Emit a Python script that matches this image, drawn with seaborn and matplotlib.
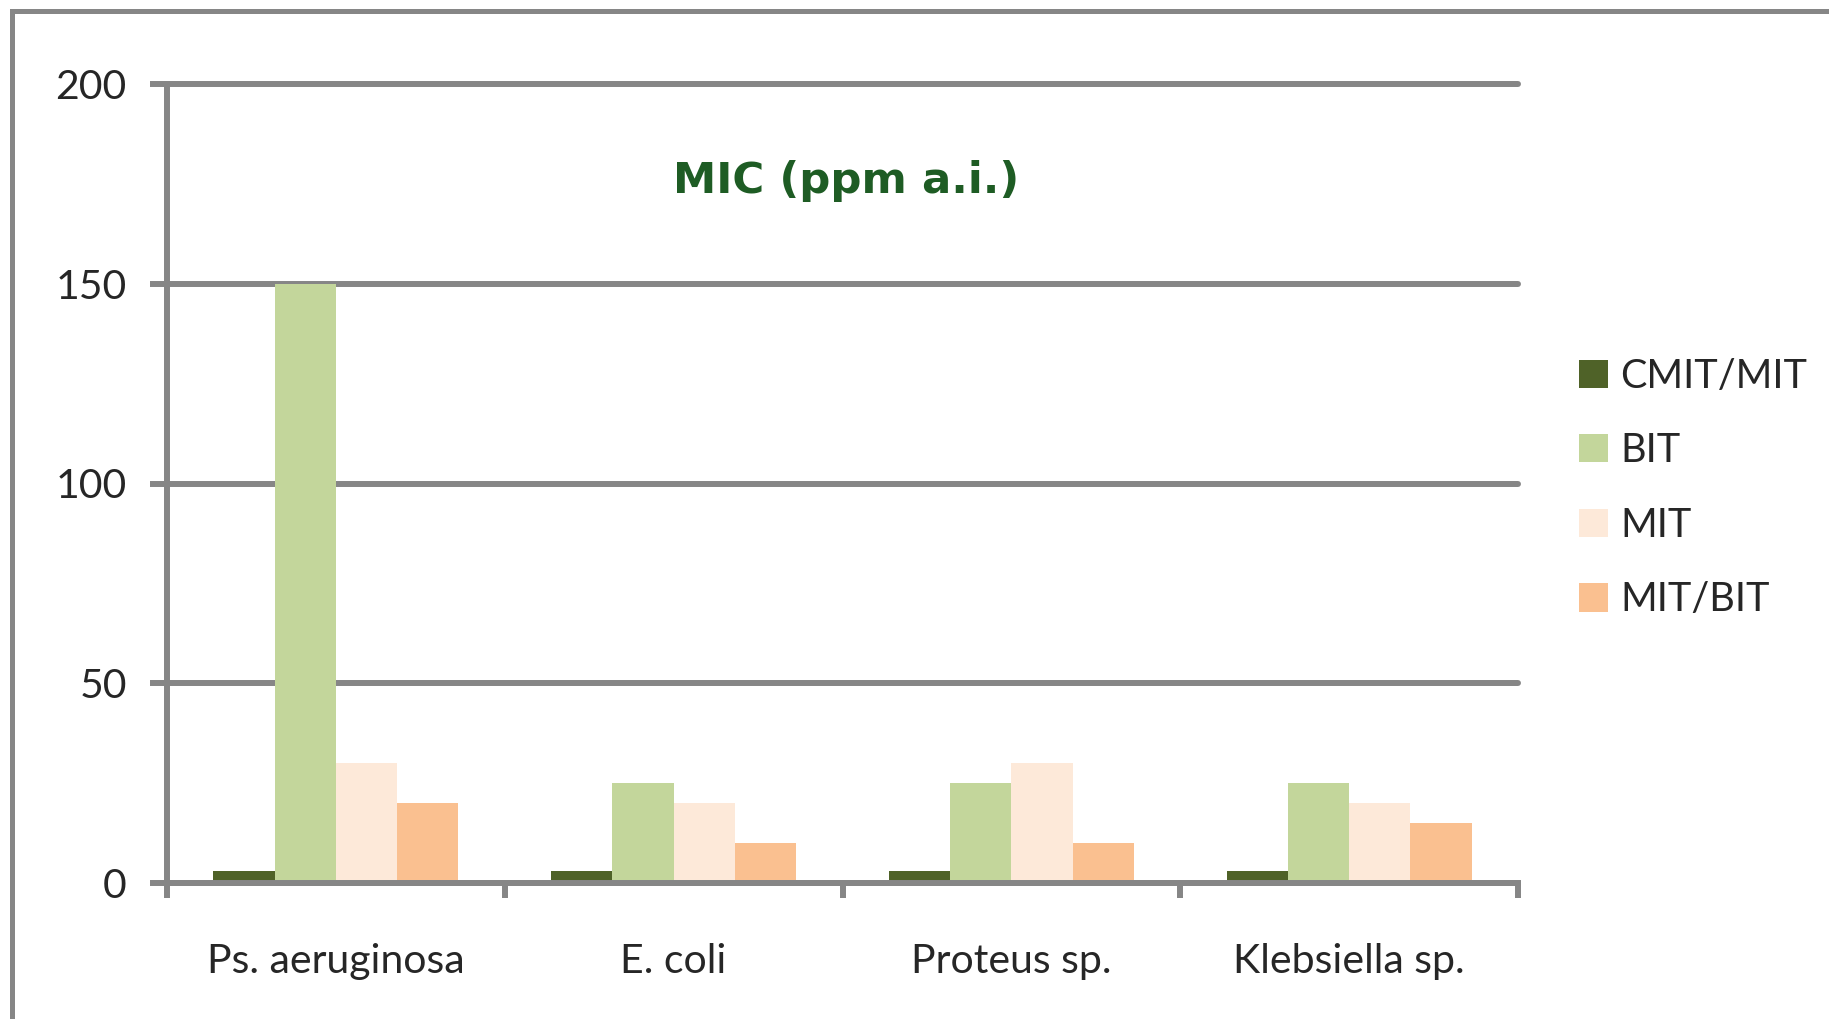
import pandas as pd
import seaborn as sns
from matplotlib import pyplot as plt
from matplotlib.patches import Rectangle

organisms = ["Ps. aeruginosa", "E. coli", "Proteus sp.", "Klebsiella sp."]
biocides = ["CMIT/MIT", "BIT", "MIT", "MIT/BIT"]
cmit_mit = [3, 3, 3, 3]
bit = [150, 25, 25, 25]
mit = [30, 20, 30, 20]
mit_bit = [20, 10, 10, 15]
colors = ["#4f6228", "#c3d69b", "#fde9d9", "#fac090"]

df = pd.DataFrame({"org": organisms, "CMIT/MIT": cmit_mit, "BIT": bit,
                   "MIT": mit, "MIT/BIT": mit_bit})
df = pd.melt(df, id_vars=["org"], value_vars=biocides, var_name="biocide", value_name="mic")

sns.set_style("white")
plt.rcParams["font.family"] = ["Lato", "DejaVu Sans"]
grey = "#868686"

fig = plt.figure(figsize=(18.29, 10.19), dpi=100)
ax = fig.add_axes([167/1829, 1-883/1019, (1518-167)/1829, (883-84)/1019])

sns.barplot(data=df, x="org", y="mic", hue="biocide", palette=colors, width=0.725,
            gap=0, saturation=1, ax=ax, linewidth=0)

ax.set_xlim(-0.5, 3.5)
ax.set_ylim(0, 200)
ax.set_yticks([0, 50, 100, 150, 200])
ax.set_xticks([-0.5, 0.5, 1.5, 2.5, 3.5])
ax.set_xticklabels([])
ax.set_xticks(range(4), minor=True)
ax.set_xticklabels(organisms, minor=True)
ax.set_xlabel("")
ax.set_ylabel("")

ax.set_axisbelow(True)
ax.yaxis.grid(True, color=grey, linewidth=4.3)
for gl in ax.yaxis.get_gridlines():
    gl.set_clip_on(False)
for s in ["top", "right"]:
    ax.spines[s].set_visible(False)
for s in ["left", "bottom"]:
    ax.spines[s].set_color(grey)
    ax.spines[s].set_linewidth(4.3)

ax.tick_params(axis="y", which="major", direction="out", length=12, width=4.3,
               color=grey, pad=17, labelsize=29.5, left=True)
ax.tick_params(axis="x", which="major", direction="out", length=11, width=4.3,
               color=grey, bottom=True)
ax.tick_params(axis="x", which="minor", length=0, pad=43, labelsize=29.5)

fig.text(846/1829, 1-193/1019, "MIC (ppm a.i.)", ha="center", va="baseline",
         fontsize=31.3, fontweight="bold", color="#1e5c24", family="DejaVu Sans")

ax.legend(loc="center left", bbox_to_anchor=(1579/1829, 1-488/1019),
          bbox_transform=fig.transFigure, frameon=False, fontsize=28.5,
          handlelength=0.72, handleheight=0.72, handletextpad=0.32,
          labelspacing=0.95, borderpad=0, borderaxespad=0)

fig.add_artist(Rectangle((12/1829, -0.1), 1.2, 1.1-10.5/1019, transform=fig.transFigure,
                         fill=False, edgecolor=grey, linewidth=3.6, clip_on=False))

plt.savefig("out.png", dpi=100)
